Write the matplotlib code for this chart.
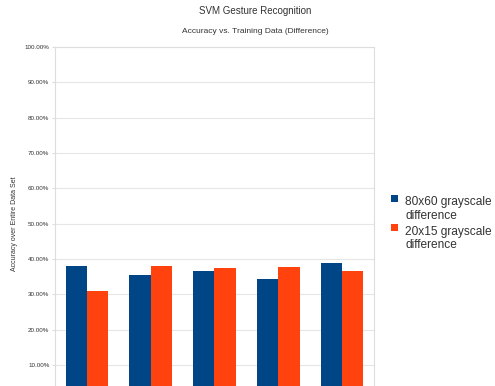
import matplotlib
matplotlib.use("Agg")
import matplotlib.pyplot as plt
from matplotlib.patches import Rectangle
from matplotlib.ticker import FuncFormatter, FixedLocator
import numpy as np

plt.rcParams["font.family"] = ["Liberation Sans", "DejaVu Sans"]

# accuracy per training set (percent)
series_names = ["80x60 grayscale\ndifference", "20x15 grayscale\ndifference"]
acc_80x60 = [38.0, 35.5, 36.5, 34.4, 38.8]
acc_20x15 = [31.0, 38.0, 37.5, 37.6, 36.7]
colors = ["#004586", "#ff420e"]
y_ticks = [10, 20, 30, 40, 50, 60, 70, 80, 90, 100]

fig = plt.figure(figsize=(4.95, 3.86), dpi=100)
ax = fig.add_axes([0.1111, -0.037, 0.6444, 0.915])

x = np.arange(len(acc_80x60))
w = 1 / 3
ax.bar(x - w / 2, acc_80x60, width=w, color=colors[0], zorder=3)
ax.bar(x + w / 2, acc_20x15, width=w, color=colors[1], zorder=3)

ax.set_xlim(-0.5, len(x) - 0.5)
ax.set_ylim(0, 100)
ax.yaxis.set_major_locator(FixedLocator(y_ticks))
ax.yaxis.set_major_formatter(FuncFormatter(lambda v, p: f"{v:.2f}%"))
ax.set_xticks([])
ax.grid(axis="y", color="#e6e6e6", linewidth=0.8, zorder=0)
for s in ax.spines.values():
    s.set_color("#dddddd")
    s.set_linewidth(0.8)
ax.tick_params(axis="y", labelsize=4.5, colors="#dddddd", labelcolor="#333333",
               length=2, pad=2)
ax.set_ylabel("Accuracy over Entire Data Set", fontsize=5, color="#333333",
              labelpad=5)

fig.text(0.515, 0.971, "SVM Gesture Recognition", ha="center", va="center",
         fontsize=7, color="#333333")
fig.text(0.515, 0.919, "Accuracy vs. Training Data (Difference)", ha="center",
         va="center", fontsize=6, color="#333333")

# legend drawn by hand so the swatch lines up with the first text line
W, H = 495, 386
for i, (name, c) in enumerate(zip(series_names, colors)):
    top = 195 + i * 29
    fig.patches.append(Rectangle((391 / W, 1 - (top + 6.7) / H), 6.7 / W, 6.7 / H,
                                 transform=fig.transFigure, facecolor=c,
                                 edgecolor="none"))
    fig.text(405 / W, 1 - (top + 1.5) / H, name, ha="left", va="top",
             fontsize=8.6, color="#333333", linespacing=1.12)

fig.savefig("out.png", dpi=100)
